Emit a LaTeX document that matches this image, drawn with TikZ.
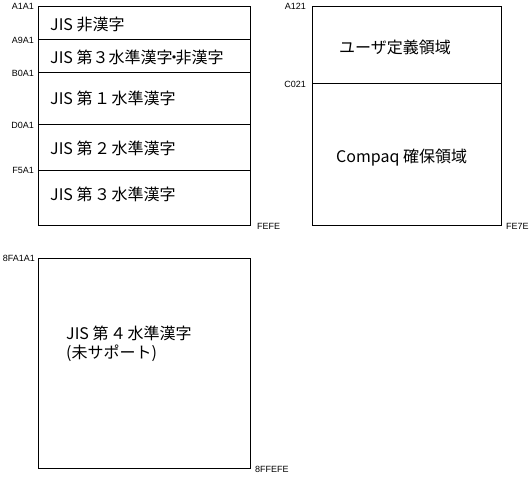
\documentclass[tikz,border=0pt]{standalone}
\usepackage{fontspec}
\setmainfont{Liberation Sans}
\newfontfamily\jp{Noto Sans CJK JP}
\begin{document}
\begin{tikzpicture}[x=1pt,y=-1pt]
\useasboundingbox (0,0) rectangle (530,484);
\tikzset{
  boxr/.style={draw, line width=1pt, inner sep=0pt, anchor=north west},
  divider/.style={line width=1pt},
  addr/.style={font=\fontsize{9}{9}\selectfont, inner sep=0pt},
  jt/.style={font=\jp\fontsize{16}{20}\selectfont, inner sep=0pt, anchor=west}
}
% left box
\node[boxr, minimum width=212pt, minimum height=219pt] (L) at (38,6) {};
\coordinate (l1) at (38,40);
\coordinate (l2) at (38,73);
\coordinate (l3) at (38,125);
\coordinate (l4) at (38,170);
\draw[divider] (l1) -- (l1 -| L.east);
\draw[divider] (l2) -- (l2 -| L.east);
\draw[divider] (l3) -- (l3 -| L.east);
\draw[divider] (l4) -- (l4 -| L.east);
\node[addr, anchor=east] (a1) at (34,6) {A1A1};
\node[addr, anchor=east] (a2) at (34,40) {A9A1};
\node[addr, anchor=east] (a3) at (34,73) {B0A1};
\node[addr, anchor=east] (a4) at (34,125) {D0A1};
\node[addr, anchor=east] (a5) at (34,170) {F5A1};
\node[addr, anchor=north west] (a6) at (257,223) {FEFE};
\node[jt] (t1) at (50,24) {JIS 非漢字};
\node[jt] (t2) at (50,57) {JIS 第３水準漢字\kern-6.5pt・\kern-6.5pt非漢字};
\node[jt] (t3) at (50,98) {JIS 第\kern1.5pt１\kern1.5pt水準漢字};
\node[jt] (t4) at (50,148) {JIS 第\kern1.5pt２\kern1.5pt水準漢字};
\node[jt] (t5) at (50,194) {JIS 第\kern1.5pt３\kern1.5pt水準漢字};
% right box
\node[boxr, minimum width=189pt, minimum height=219pt] (R) at (312,6) {};
\coordinate (r1) at (312,84);
\draw[divider] (r1) -- (r1 -| R.east);
\node[addr, anchor=east] (b1) at (306,6) {A121};
\node[addr, anchor=east] (b2) at (306,84) {C021};
\node[addr, anchor=north west] (b3) at (506,223) {FE7E};
\node[jt] (u1) at (339,47) {ユーザ定義領域};
\node[jt] (u2) at (336,158) {Compaq 確保領域};
% bottom box
\node[boxr, minimum width=212pt, minimum height=210pt] (B) at (38,258) {};
\node[addr, anchor=north west] (c2) at (255,466) {8FFEFE};
\node[addr, anchor=east] (c1) at (35,258) {8FA1A1};
\node[jt] (v1) at (66,333) {JIS 第\kern1.5pt４\kern1.5pt水準漢字};
\node[jt] (v2) at (66,353) {(未サポート)};
\end{tikzpicture}
\end{document}
